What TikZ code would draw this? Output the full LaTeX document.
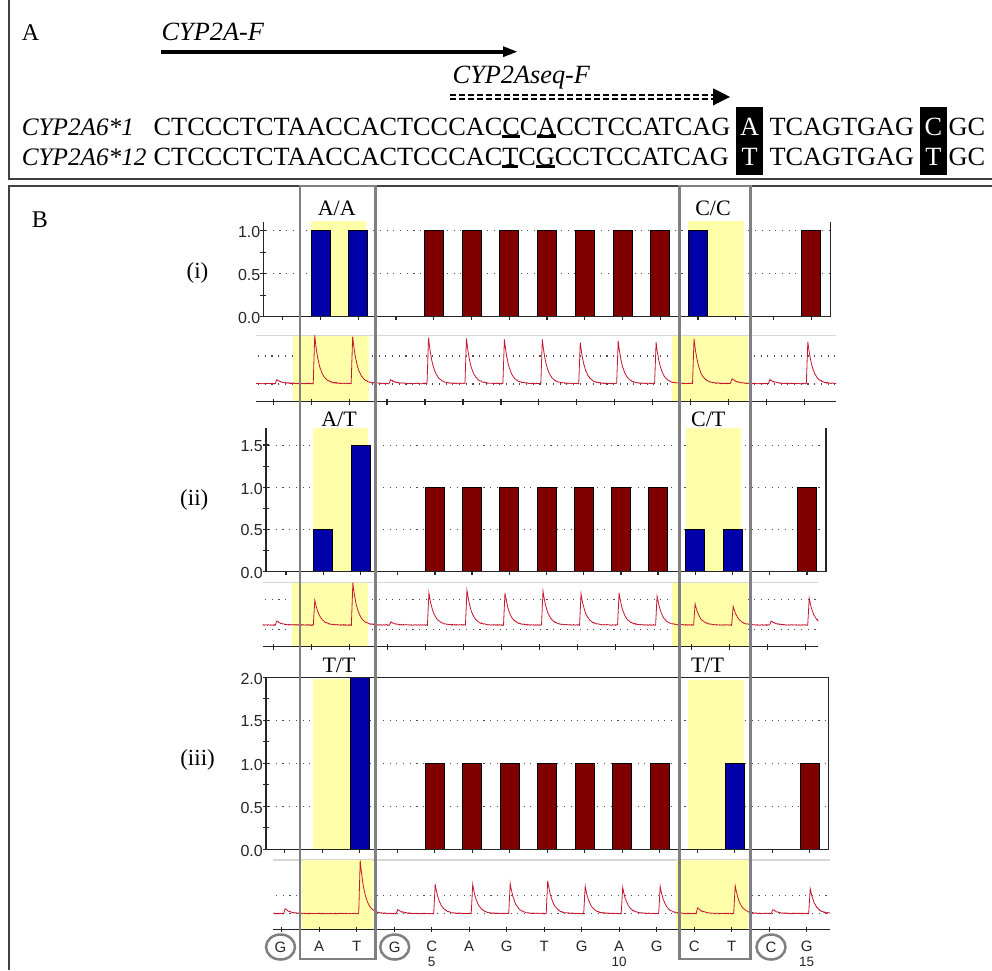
\documentclass[tikz,border=0pt]{standalone}
\usepackage{fontspec}
\setmainfont{Liberation Serif}
\newfontfamily\chartfont{Liberation Sans}
\usetikzlibrary{shapes.geometric}
\definecolor{barblue}{HTML}{0000A8}
\definecolor{barred}{HTML}{800000}
\definecolor{hlyellow}{HTML}{FFFFAA}
\definecolor{boxgray}{HTML}{808080}
\definecolor{tracered}{HTML}{C41830}
\definecolor{framedark}{HTML}{404040}
\definecolor{lightline}{HTML}{D6D6D6}
\newcommand\ulx[1]{\setbox0\hbox{#1}\rlap{\rule[-2.6pt]{\wd0}{2.4pt}}#1}
\newcommand\drawbars[5]{%
  \foreach \p/\h/\c in {#5}{%
    \pgfmathsetmacro\xc{#1+(\p-1)*(#2)}%
    \pgfmathsetmacro\yt{#3-\h*(#4)}%
    \draw[barst,fill=\c] (\xc-9.5,#3) rectangle (\xc+9.5,\yt);
  }}
\newcommand\drawtrace[8]{%
  \begin{scope}
    \clip (#1,#3) rectangle (#2,#4);
    \draw[trc] plot[domain=#1:#5+2,samples=25] (\x,{#7+0.35*rand});
    \foreach \p/\h in {#8}{%
      \pgfmathsetmacro\xs{#5+(\p-1)*(#6)+2}%
      \draw[trc] plot[samples at={-2,-1.5,...,36.5}] ({\xs+\x},{#7-\h*((\x<0)?0:((\x<1.5)?(\x/1.5):exp(-(\x-1.5)/4.8)))+0.35*rand});
    }
  \end{scope}}
\begin{document}
\begin{tikzpicture}[x=1pt,y=-1pt,
  framest/.style={draw=framedark,line width=2pt},
  seq/.style={anchor=base west,inner sep=0pt,font=\fontsize{26.3}{26.3}\selectfont},
  seqlab/.style={anchor=base west,inner sep=0pt,font=\fontsize{25.2}{25.2}\selectfont\itshape},
  lbl/.style={inner sep=0pt,font=\fontsize{22}{22}\selectfont},
  barst/.style={draw=black,line width=0.9pt},
  gridst/.style={line width=1.1pt,black!70,dash pattern=on 1.1pt off 5.6pt},
  axst/.style={line width=1.3pt,black!85},
  hl/.style={fill=hlyellow},
  gbox/.style={draw=boxgray,line width=2.8pt},
  trc/.style={tracered,line width=0.8pt},
  toplinest/.style={lightline,line width=1.5pt},
  ylab/.style={anchor=east,inner sep=0pt,font=\chartfont\fontsize{16}{16}\selectfont,text=black!85},
  blab/.style={inner sep=0pt,font=\chartfont\fontsize{15}{15}\selectfont,text=black!85},
  numlab/.style={inner sep=0pt,font=\chartfont\fontsize{13.5}{13.5}\selectfont,text=black!85},
  circst/.style={ellipse,draw=boxgray,line width=2.5pt,minimum width=29pt,minimum height=25pt,inner sep=0pt,font=\chartfont\fontsize{15}{15}\selectfont,text=black!85}]
\pgfmathsetseed{11}
\useasboundingbox (0,0) rectangle (992,970);
\fill[white] (0,0) rectangle (992,970);

% ---------------- frames
\draw[framest] (8.5,0) -- (8.5,178.5) -- (992,178.5);
\draw[framest] (992,185.5) -- (8.5,185.5) -- (8.5,970);

% ---------------- section A
\node[lbl,anchor=base west,font=\fontsize{24}{24}\selectfont] (labA) at (21.7,40) {A};
\node[seq] (primF) at (161.5,40) {\itshape CYP2A-F};
\coordinate (fs) at (161,51.7);
\coordinate (fe) at (504,51.7);
\draw[line width=4pt] (fs) -- (fe);
\fill (503,46.2) -- (517,51.7) -- (503,57.2) -- cycle;
\node[seq] (primS) at (452.5,83) {\itshape CYP2Aseq-F};
\coordinate (ds1) at (450,94.8);
\coordinate (de1) at (713,94.8);
\coordinate (ds2) at (450,99);
\coordinate (de2) at (713,99);
\draw[line width=2.2pt,dash pattern=on 6pt off 3pt] (ds1) -- (de1);
\draw[line width=2.2pt,dash pattern=on 6pt off 3pt] (ds2) -- (de2);
\fill (713,88.3) -- (730,96.9) -- (713,105.5) -- cycle;

\node[seqlab] (n1) at (21.7,135) {CYP2A6*1};
\node[seq] (s1) at (153.5,135) {CTCCCTCTAACCACTCCCAC\ulx{C}C\ulx{A}CCTCCATCAG};
\node[seqlab] (n2) at (21.7,165) {CYP2A6*12};
\node[seq] (s2) at (153.5,165) {CTCCCTCTAACCACTCCCAC\ulx{T}C\ulx{G}CCTCCATCAG};
\fill (736,107.3) rectangle (763.3,175);
\fill (920,107.3) rectangle (946.7,175);
\node[seq,anchor=base,text=white] (b1a) at (749.6,135) {A};
\node[seq,anchor=base,text=white] (b1b) at (749.6,165) {T};
\node[seq,anchor=base,text=white] (b2a) at (933.3,135) {C};
\node[seq,anchor=base,text=white] (b2b) at (933.3,165) {T};
\node[seq] (m1) at (769.3,135) {TCAGTGAG};
\node[seq] (m2) at (769.3,165) {TCAGTGAG};
\node[seq] (e1) at (948.3,135) {GC};
\node[seq] (e2) at (948.3,165) {GC};

% ---------------- section B labels
\node[lbl,anchor=base west,font=\fontsize{24}{24}\selectfont] (labB) at (31.7,227) {B};
\node[lbl,anchor=east,font=\fontsize{23}{23}\selectfont] (pi) at (208.5,273) {(i)};
\node[lbl,anchor=east,font=\fontsize{23}{23}\selectfont] (pii) at (208.5,500) {(ii)};
\node[lbl,anchor=east,font=\fontsize{23}{23}\selectfont] (piii) at (215,760) {(iii)};

% ================= panel (i) bars
\foreach \v in {0.5,1} \draw[gridst] (266,{316.7-\v*86}) -- (829,{316.7-\v*86});
\fill[hl] (311,221) rectangle (366,316.7);
\fill[hl] (688,221) rectangle (744,316.7);
\drawbars{282.75}{37.75}{316.7}{86}{2/1/barblue,3/1/barblue,5/1/barred,6/1/barred,7/1/barred,8/1/barred,9/1/barred,10/1/barred,11/1/barred,12/1/barblue,15/1/barred}
\draw[axst] (263.3,222) -- (263.3,316.7) -- (830.7,316.7) -- (830.7,222);
\foreach \v in {0,0.25,...,1} \draw[axst] (260.3,{316.7-\v*86}) -- (266.3,{316.7-\v*86});
\foreach \k in {0,...,14} \draw[axst] ({282.75+\k*37.75},316.7) -- ++(0,3.5);
\node[ylab] (ia) at (260.5,318) {0.0};
\node[ylab] (ib) at (260.5,275) {0.5};
\node[ylab] (ic) at (260.5,232) {1.0};

% panel (i) trace
\draw[toplinest] (256,335.7) -- (836,335.7);
\foreach \yy in {356,384} \draw[gridst] (258,\yy) -- (836,\yy);
\fill[hl] (293,335.7) rectangle (369,401.7);
\fill[hl] (672,335.7) rectangle (748,401.7);
\drawtrace{256}{836}{335}{401.7}{273.3}{37.93}{383.5}{1/4,2/48,3/47,4/4,5/46,6/45,7/44,8/44,9/41,10/42.5,11/41,12/45,13/5,14/4,15/42}
\draw[axst] (256,401.7) -- (836,401.7);
\foreach \k in {0,...,14} \draw[axst] ({273.3+\k*37.93},399) -- ++(0,5.5);

% ================= panel (ii) bars
\foreach \v in {0.5,1,1.5} \draw[gridst] (269,{571.7-\v*84.4}) -- (825,{571.7-\v*84.4});
\fill[hl] (313,428) rectangle (368,571.7);
\fill[hl] (686,428) rectangle (741,571.7);
\drawbars{286.1}{37.2}{571.7}{84.4}{2/0.5/barblue,3/1.5/barblue,5/1/barred,6/1/barred,7/1/barred,8/1/barred,9/1/barred,10/1/barred,11/1/barred,12/0.5/barblue,13/0.5/barblue,15/1/barred}
\draw[axst] (266,428) -- (266,571.7) -- (826,571.7) -- (826,428);
\foreach \v in {0,0.25,...,1.5} \draw[axst] (263,{571.7-\v*84.4}) -- (269,{571.7-\v*84.4});
\foreach \k in {0,...,14} \draw[axst] ({286.1+\k*37.2},571.7) -- ++(0,3.5);
\node[ylab] (iia) at (263,573) {0.0};
\node[ylab] (iib) at (263,530) {0.5};
\node[ylab] (iic) at (263,488.5) {1.0};
\node[ylab] (iid) at (263,446) {1.5};

% panel (ii) trace
\draw[toplinest] (262.7,582.7) -- (818.3,582.7);
\foreach \yy in {599.3,629.3} \draw[gridst] (265,\yy) -- (818,\yy);
\fill[hl] (291.7,582.7) rectangle (368.3,646.7);
\fill[hl] (672,582.7) rectangle (748,646.7);
\drawtrace{262.7}{818.3}{582}{646.7}{273.3}{38.03}{625}{1/4,2/25,3/42,4/3,5/32,6/35,7/32,8/34,9/31,10/32,11/29,12/21,13/19,14/4,15/27}
\draw[axst] (262.7,646.7) -- (818.3,646.7);
\foreach \k in {0,...,14} \draw[axst] ({273.3+\k*38.03},644) -- ++(0,5.5);

% ================= panel (iii) bars
\foreach \v in {0.5,1,1.5} \draw[gridst] (269,{849.3-\v*86}) -- (827,{849.3-\v*86});
\fill[hl] (313,679) rectangle (368,849.3);
\fill[hl] (688,680) rectangle (744,849.3);
\drawbars{284.7}{37.5}{849.3}{86}{3/2/barblue,5/1/barred,6/1/barred,7/1/barred,8/1/barred,9/1/barred,10/1/barred,11/1/barred,13/1/barblue,15/1/barred}
\draw[axst] (266,677.3) rectangle (828.7,849.3);
\foreach \v in {0,0.25,...,2} \draw[axst] (263,{849.3-\v*86}) -- (269,{849.3-\v*86});
\foreach \k in {0,...,14} \draw[axst] ({284.7+\k*37.5},849.3) -- ++(0,3.5);
\node[ylab] (iiia) at (263,850.6) {0.0};
\node[ylab] (iiib) at (263,807.5) {0.5};
\node[ylab] (iiic) at (263,764.5) {1.0};
\node[ylab] (iiid) at (263,721.5) {1.5};
\node[ylab] (iiie) at (263,678.6) {2.0};

% panel (iii) trace
\draw[toplinest] (273.3,860) -- (830,860);
\foreach \yy in {895.7,913.5} \draw[gridst] (276,\yy) -- (830,\yy);
\fill[hl] (301.7,860) rectangle (373.3,929.3);
\fill[hl] (676,860) rectangle (748,929.3);
\drawtrace{273.3}{830}{859}{929.3}{281.7}{37.5}{913.5}{1/5,2/0,3/53,4/4,5/29,6/29,7/30,8/33,9/27,10/26,11/27,12/6,13/28,14/4,15/25}
\draw[axst] (273.3,929.3) -- (830,929.3);
\foreach \k in {0,...,14} \draw[axst] ({281.7+\k*37.5},926.6) -- ++(0,5.5);

% ================= dispensation order
\foreach \k/\b in {2/A,3/T,5/C,6/A,7/G,8/T,9/G,10/A,11/G,12/C,13/T,15/G}
  \node[blab] (d\k) at ({281.7+(\k-1)*37.5},946.5) {\b};
\node[circst] (c1) at (280.5,947) {G};
\node[circst] (c4) at (394.7,947) {G};
\node[circst] (c14) at (771,947) {C};
\node[numlab] (n5) at (431.7,961.5) {5};
\node[numlab] (n10) at (619.2,961.5) {10};
\node[numlab] (n15) at (806.7,961.5) {15};

% ================= highlight boxes
\draw[gbox] (300,186) rectangle (375.5,959);
\draw[gbox] (679.3,186) rectangle (750.5,959);
\node[lbl,anchor=base] (gAA) at (336.7,215) {A/A};
\node[lbl,anchor=base] (gCC) at (713,215) {C/C};
\node[lbl,anchor=base] (gAT) at (339,426.5) {A/T};
\node[lbl,anchor=base] (gCT) at (708.3,426.5) {C/T};
\node[lbl,anchor=base] (gTT1) at (339,672.5) {T/T};
\node[lbl,anchor=base] (gTT2) at (707.5,672) {T/T};
\end{tikzpicture}
\end{document}
